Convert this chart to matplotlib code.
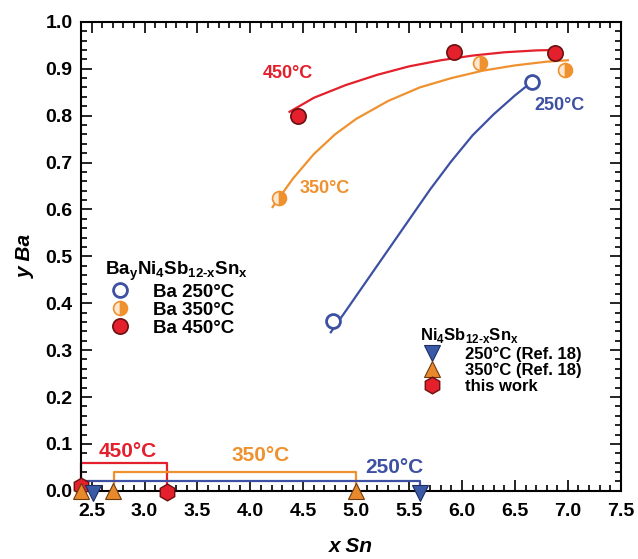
import numpy as np
import matplotlib
matplotlib.use("Agg")
import matplotlib.pyplot as plt
from matplotlib.ticker import MultipleLocator
from matplotlib.lines import Line2D

plt.rcParams['font.family'] = ['Liberation Sans', 'DejaVu Sans']
plt.rcParams['font.weight'] = 'bold'
plt.rcParams['axes.labelweight'] = 'bold'

## Ba_yNi4Sb12-xSnx points
x250 = [4.78, 6.66]
y250 = [0.362, 0.872]
x350 = [4.27, 6.17, 6.97]
y350 = [0.625, 0.912, 0.897]
x450 = [4.45, 5.92, 6.88]
y450 = [0.80, 0.936, 0.933]

## guide curves
cx250 = [4.76, 4.9, 5.1, 5.3, 5.5, 5.7, 5.9, 6.1, 6.3, 6.5, 6.66]
cy250 = [0.338, 0.383, 0.448, 0.513, 0.578, 0.643, 0.703, 0.758, 0.803, 0.843, 0.872]
cx350 = [4.21, 4.4, 4.6, 4.8, 5.0, 5.3, 5.6, 5.9, 6.2, 6.5, 6.8, 7.0]
cy350 = [0.605, 0.665, 0.718, 0.760, 0.793, 0.831, 0.860, 0.880, 0.896, 0.907, 0.915, 0.918]
cx450 = [4.37, 4.6, 4.9, 5.2, 5.5, 5.8, 6.1, 6.4, 6.7, 6.9]
cy450 = [0.808, 0.838, 0.865, 0.887, 0.905, 0.918, 0.928, 0.935, 0.939, 0.940]

## Ni4Sb12-xSnx limits
xr250 = [2.51, 5.6]
yr250 = [-0.004, -0.004]
xr350 = [2.4, 2.7, 5.0]
yr350 = [0.0, 0.0, 0.0]
xthis = [2.4, 3.21]
ythis = [0.011, -0.003]

## brackets: (x start, x end, height)
br450 = [2.4, 3.21, 0.060]
br350 = [2.71, 5.0, 0.041]
br250 = [2.4, 5.6, 0.020]

red = '#e3202b'
orange = '#f0912f'
blue = '#3e50a2'

fig = plt.figure(figsize=(6.38, 5.59), dpi=100)
ax = fig.add_axes([0.127, 0.122, 0.846, 0.839])

ax.plot(cx450, cy450, color=red, lw=1.6)
ax.plot(cx350, cy350, color=orange, lw=1.6)
ax.plot(cx250, cy250, color=blue, lw=1.6)

ax.plot(x250, y250, 'o', ms=10, mfc='white', mec=blue, mew=2.0, ls='none')
ax.plot(x350, y350, 'o', ms=10, fillstyle='right', mfc=orange, mfcalt='#fde7d0',
        mec=orange, mew=1.2, ls='none')
ax.plot(x450, y450, 'o', ms=11, mfc=red, mec='#6b1010', mew=1.2, ls='none')

# brackets
for b, c in [(br450, red), (br350, orange), (br250, blue)]:
    ax.plot([b[0], b[0], b[1], b[1]], [0.0, b[2], b[2], 0.0], color=c, lw=1.6,
            clip_on=False)

ax.plot(xthis, ythis, 'h', ms=12, mfc=red, mec='#6b1010', mew=1.0, ls='none', clip_on=False, zorder=5)
ax.plot(xr350, yr350, '^', ms=11, mfc='#e8892c', mec='#6b3a10', mew=0.8, ls='none', clip_on=False, zorder=6)
ax.plot(xr250, yr250, 'v', ms=11, mfc='#3a5aa8', mec='#1d2d60', mew=0.8, ls='none', clip_on=False, zorder=6)

ax.text(2.84, 0.084, '450°C', color=red, fontsize=15, ha='center', va='center')
ax.text(4.1, 0.075, '350°C', color=orange, fontsize=15, ha='center', va='center')
ax.text(5.36, 0.050, '250°C', color=blue, fontsize=15, ha='center', va='center')

ax.text(4.35, 0.89, '450°C', color=red, fontsize=13, ha='center', va='center')
ax.text(4.70, 0.645, '350°C', color=orange, fontsize=13, ha='center', va='center')
ax.text(6.92, 0.822, '250°C', color=blue, fontsize=13, ha='center', va='center')

ax.set_xlim(2.4, 7.5)
ax.set_ylim(0.0, 1.0)
ax.xaxis.set_major_locator(MultipleLocator(0.5))
ax.xaxis.set_minor_locator(MultipleLocator(0.1))
ax.yaxis.set_major_locator(MultipleLocator(0.1))
ax.yaxis.set_minor_locator(MultipleLocator(0.02))
ax.tick_params(which='both', direction='in', top=True, right=True, labelsize=14, width=1.2)
ax.tick_params(which='major', length=8)
ax.tick_params(which='minor', length=4)
ax.tick_params(axis='x', pad=9)
ax.tick_params(axis='y', pad=6)
ax.xaxis.set_major_formatter(plt.FuncFormatter(lambda v, p: '%.1f' % v))
ax.yaxis.set_major_formatter(plt.FuncFormatter(lambda v, p: '%.1f' % v))
for s in ax.spines.values():
    s.set_linewidth(1.5)

ax.set_xlabel('x Sn', fontsize=15, style='italic', labelpad=12)
ax.set_ylabel('y Ba', fontsize=15, style='italic', labelpad=8)

# legends
h1 = [Line2D([], [], marker='o', ls='none', ms=10, mfc='white', mec=blue, mew=2.0),
      Line2D([], [], marker='o', ls='none', ms=10, fillstyle='right', mfc=orange,
             mfcalt='#fde7d0', mec=orange, mew=1.2),
      Line2D([], [], marker='o', ls='none', ms=11, mfc=red, mec='#6b1010', mew=1.2)]
leg1 = ax.legend(h1, ['Ba 250°C', 'Ba 350°C', 'Ba 450°C'],
                 title='Ba$_\\mathregular{y}$Ni$_\\mathregular{4}$Sb$_\\mathregular{12\u2010x}$Sn$_\\mathregular{x}$',
                 loc='upper left', bbox_to_anchor=(0.03, 0.51), frameon=False,
                 fontsize=13.5, title_fontsize=13.5, handletextpad=1.0, labelspacing=0.05,
                 borderaxespad=0, handlelength=1.6)
leg1._legend_box.align = 'left'
ax.add_artist(leg1)

h2 = [Line2D([], [], marker='v', ls='none', ms=11, mfc='#3a5aa8', mec='#1d2d60', mew=0.8),
      Line2D([], [], marker='^', ls='none', ms=11, mfc='#e8892c', mec='#6b3a10', mew=0.8),
      Line2D([], [], marker='h', ls='none', ms=12, mfc=red, mec='#6b1010', mew=1.0)]
leg2 = ax.legend(h2, ['250°C (Ref. 18)', '350°C (Ref. 18)', 'this work'],
                 title='Ni$_\\mathregular{4}$Sb$_\\mathregular{12\u2010x}$Sn$_\\mathregular{x}$',
                 loc='upper left', bbox_to_anchor=(0.615, 0.365), frameon=False,
                 fontsize=12, title_fontsize=12, handletextpad=1.2, labelspacing=0.05,
                 borderaxespad=0, handlelength=1.5)
leg2._legend_box.align = 'left'

fig.savefig('out.png', dpi=100)
